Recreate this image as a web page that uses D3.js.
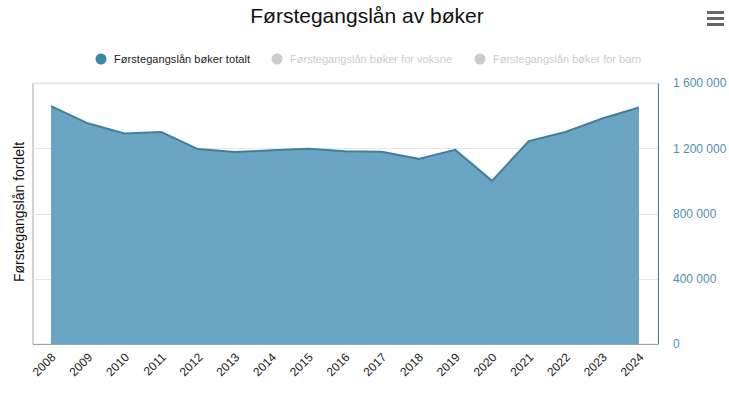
<!DOCTYPE html>
<html>
<head>
<meta charset="utf-8">
<script src="https://cdn.jsdelivr.net/npm/d3@7"></script>
<style>
  body { margin: 0; background: #fff; font-family: "Liberation Sans", Arial, sans-serif; }
  svg { display: block; }
</style>
</head>
<body>
<div id="chart"></div>
<script>
const years = ['2008', '2009', '2010', '2011', '2012', '2013', '2014', '2015', '2016',
    '2017', '2018', '2019', '2020', '2021', '2022', '2023', '2024'];
const totalLoans = [1458000, 1353000, 1290000, 1299000, 1195000, 1177000, 1187000, 1197000, 1181000,
    1178000, 1135000, 1190000, 1000000, 1244000, 1300000, 1382000, 1450000];
const yTicks = [0, 400000, 800000, 1200000, 1600000];
const legendItems = ['Førstegangslån bøker totalt', 'Førstegangslån bøker for voksne', 'Førstegangslån bøker for barn'];
const legendActive = [true, false, false];

const W = 729, H = 394;
const plot = { left: 33, right: 658, top: 83, bottom: 344 };

const svg = d3.select('#chart').append('svg')
    .attr('width', W)
    .attr('height', H);

// title
svg.append('text')
    .attr('x', 367).attr('y', 23)
    .attr('text-anchor', 'middle')
    .attr('font-size', 21)
    .attr('fill', '#111')
    .text('Førstegangslån av bøker');

// hamburger menu
svg.append('g').selectAll('rect')
    .data([0, 1, 2])
  .enter().append('rect')
    .attr('x', 707).attr('y', d => 11 + d * 6)
    .attr('width', 17).attr('height', 3)
    .attr('fill', '#666');

// legend
const legendX = [101, 277, 480];
const legend = svg.append('g').selectAll('g')
    .data(legendItems)
  .enter().append('g')
    .attr('transform', (d, i) => `translate(${legendX[i]},59)`);
legend.append('circle')
    .attr('r', 5.5)
    .attr('fill', (d, i) => legendActive[i] ? '#3d85a9' : '#cccccc');
legend.append('text')
    .attr('x', 13).attr('y', 4)
    .attr('font-size', 11)
    .attr('fill', (d, i) => legendActive[i] ? '#222' : '#cccccc')
    .attr('textLength', (d, i) => [136, 162, 148][i])
    .text(d => d);

const x = d3.scalePoint()
    .domain(years)
    .range([51, 639]);

const y = d3.scaleLinear()
    .domain([0, 1600000])
    .range([plot.bottom, plot.top]);

// frame
svg.append('rect')
    .attr('x', plot.left).attr('y', plot.top)
    .attr('width', plot.right - plot.left).attr('height', plot.bottom - plot.top)
    .attr('fill', 'none')
    .attr('stroke', '#e4e4e4');
svg.append('line')
    .attr('x1', plot.left).attr('x2', plot.left)
    .attr('y1', plot.top).attr('y2', plot.bottom)
    .attr('stroke', '#b5b5b5');

// gridlines
svg.append('g').selectAll('line')
    .data(yTicks.slice(1))
  .enter().append('line')
    .attr('x1', plot.left).attr('x2', plot.right)
    .attr('y1', d => Math.round(y(d)) + 0.5).attr('y2', d => Math.round(y(d)) + 0.5)
    .attr('stroke', '#e6e6e6');

// area
const area = d3.area()
    .x((d, i) => x(years[i]))
    .y0(y(0))
    .y1(d => y(d));
const line = d3.line()
    .x((d, i) => x(years[i]))
    .y(d => y(d));

svg.append('path')
    .datum(totalLoans)
    .attr('d', area)
    .attr('fill', '#6aa6c3');
svg.append('path')
    .datum(totalLoans)
    .attr('d', line)
    .attr('fill', 'none')
    .attr('stroke', '#437f9a')
    .attr('stroke-width', 2);

// right axis
const yAxis = svg.append('g')
    .attr('transform', `translate(${plot.right},0)`)
    .call(d3.axisRight(y).tickValues(yTicks).tickSize(0).tickPadding(15)
        .tickFormat(d => d3.format(',')(d).replace(/,/g, ' ')));
yAxis.select('.domain').attr('stroke', '#4f8196');
yAxis.selectAll('text')
    .attr('font-family', '"Liberation Sans", Arial, sans-serif')
    .attr('font-size', 12)
    .attr('fill', '#4f8fad');

// bottom axis
const xAxis = svg.append('g')
    .attr('transform', `translate(0,${plot.bottom})`)
    .call(d3.axisBottom(x).tickSize(0).tickPadding(0));
xAxis.select('.domain')
    .attr('d', `M${plot.left},0.5H${plot.right}`)
    .attr('stroke', '#8fa6b3');
xAxis.selectAll('text')
    .attr('font-family', '"Liberation Sans", Arial, sans-serif')
    .attr('font-size', 12)
    .attr('fill', '#222')
    .attr('text-anchor', 'end')
    .attr('dy', 0)
    .attr('transform', 'translate(5,14) rotate(-45)');

// y axis title
svg.append('text')
    .attr('transform', 'translate(24,212) rotate(-90)')
    .attr('text-anchor', 'middle')
    .attr('font-size', 14)
    .attr('fill', '#111')
    .text('Førstegangslån fordelt');
</script>
</body>
</html>
